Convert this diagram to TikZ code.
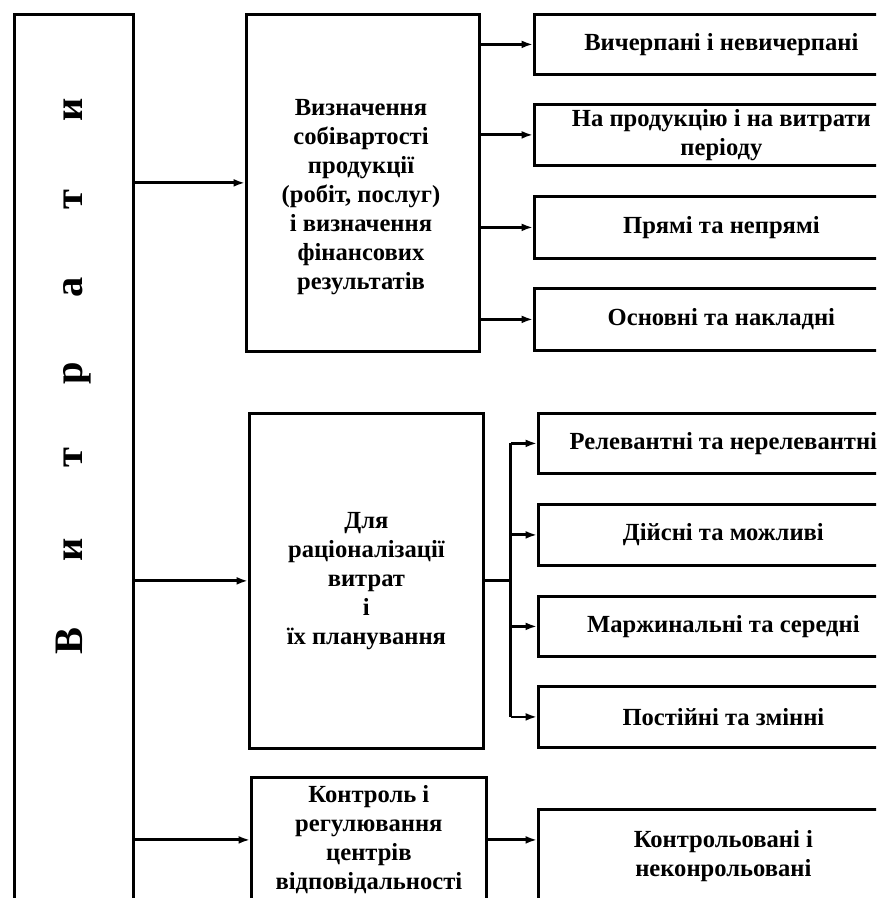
\documentclass[tikz,border=0pt]{standalone}
\usepackage{fontspec}
\setmainfont{Liberation Serif}
\usetikzlibrary{arrows.meta,positioning}

\begin{document}
\begin{tikzpicture}[x=0.02cm, y=-0.02cm,
  box/.style={draw, line width=1.6pt, inner sep=0pt, anchor=north west, align=center,
    font=\bfseries\fontsize{14}{16.5}\selectfont},
  txt/.style={align=center, font=\bfseries\fontsize{14}{16.5}\selectfont},
  letter/.style={rotate=90, anchor=base, font=\bfseries\fontsize{23}{23}\selectfont},
  arr/.style={line width=1.6pt, -{Latex[length=6.5pt,width=4.5pt]}},
  line/.style={line width=1.6pt}]

\useasboundingbox (0,0) rectangle (876,898);
\clip (0,0) rectangle (876,898);

% Left box
\node[box, minimum width=2.38cm, minimum height=18.4cm] (main) at (13,13) {};
\foreach \l/\y [count=\i] in {В/641,и/550,т/458,р/373,а/287,т/200,и/110}
  \node[letter] (let\i) at (82,\y) {\l};

% Middle boxes
\node[box, minimum width=4.66cm, minimum height=6.74cm] (cost) at (245,13) {};
\node[txt] (costtxt) at (361,197) {Визначення\\собівартості\\продукції\\(робіт, послуг)\\і визначення\\фінансових\\результатів};
\node[box, minimum width=4.68cm, minimum height=6.7cm] (plan) at (248,412)
  {Для\\раціоналізації\\витрат\\і\\їх планування};
\node[box, minimum width=4.7cm, minimum height=2.5cm] (ctrl) at (250,776)
  {Контроль і\\регулювання\\центрів\\відповідальності};

% Right boxes, first group
\node[box, minimum width=7.48cm, minimum height=1.2cm] (used) at (533,13) {Вичерпані і невичерпані};
\node[box, minimum width=7.48cm, minimum height=1.22cm] (prod) at (533,103) {На продукцію і на витрати\\періоду};
\node[box, minimum width=7.48cm, minimum height=1.24cm] (direct) at (533,195) {Прямі та непрямі};
\node[box, minimum width=7.48cm, minimum height=1.24cm] (basic) at (533,287) {Основні та накладні};

% Right boxes, second group
\node[box, minimum width=7.4cm, minimum height=1.2cm] (relev) at (537,412) {Релевантні та нерелевантні};
\node[box, minimum width=7.4cm, minimum height=1.22cm] (real) at (537,503) {Дійсні та можливі};
\node[box, minimum width=7.4cm, minimum height=1.2cm] (marg) at (537,595) {Маржинальні та середні};
\node[box, minimum width=7.4cm, minimum height=1.22cm] (fixed) at (537,685) {Постійні та змінні};

% Bottom right box
\node[box, minimum width=7.4cm, minimum height=1.88cm] (contr) at (537,808) {Контрольовані і\\неконрольовані};

% Arrows from the left box
\foreach \n in {cost,plan,ctrl}
  \draw[arr] (main.east |- \n.west) -- (\n.west);

% Arrows of the first group
\foreach \n in {used,prod,direct,basic}
  \draw[arr] (cost.east |- \n.west) -- (\n.west);

% Fork of the second group
\coordinate (fork) at ([xshift=0.52cm]plan.east);
\draw[line] (plan.east) -- (fork);
\draw[line] (fork |- relev.west) -- (fork |- fixed.west);
\foreach \n in {relev,real,marg,fixed}
  \draw[arr] (fork |- \n.west) -- (\n.west);

% Bottom arrow
\draw[arr] (ctrl.east) -- (ctrl.east -| contr.west);

\end{tikzpicture}
\end{document}
